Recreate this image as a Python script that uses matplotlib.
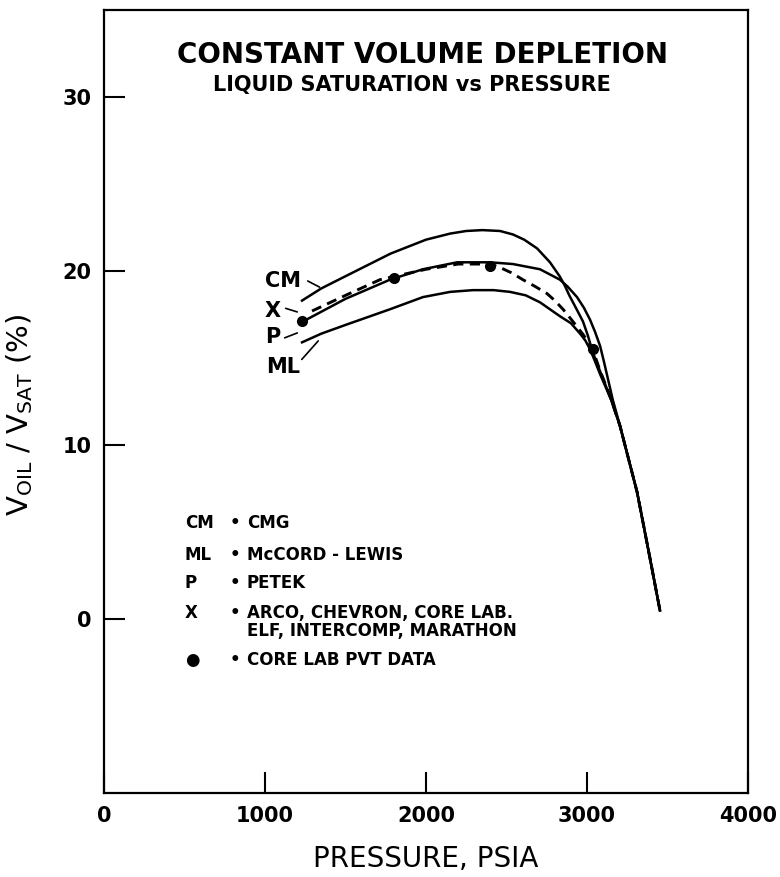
import numpy as np
import matplotlib
matplotlib.use("Agg")
import matplotlib.pyplot as plt

# Liquid saturation (%) vs pressure (psia)
p_cm = [1230, 1350, 1500, 1780, 2000, 2150, 2250, 2350, 2460, 2540, 2610, 2690, 2730, 2770, 2830, 2860,
        2890, 2930, 2975, 3005, 3037, 3070, 3100, 3150, 3205, 3311, 3391, 3453]
s_cm = [18.3, 19.0, 19.7, 21.0, 21.8, 22.15, 22.3, 22.35, 22.3, 22.1, 21.8, 21.3, 20.9, 20.5, 19.7, 19.2,
        18.6, 17.9, 17.1, 16.3, 15.3, 14.5, 13.8, 12.6, 11.1, 7.3, 3.5, 0.5]

p_x = [1292, 1500, 1714, 2000, 2200, 2400, 2460, 2530, 2602, 2680, 2752, 2800, 2851, 2895, 2938, 2980,
       3019, 3050, 3080, 3140, 3205, 3311, 3391, 3453]
s_x = [17.7, 18.6, 19.5, 20.1, 20.4, 20.4, 20.2, 19.9, 19.5, 19.1, 18.7, 18.3, 17.8, 17.3, 16.8, 16.3,
       15.7, 15.1, 14.3, 12.9, 11.1, 7.3, 3.5, 0.5]

p_p = [1236, 1500, 1776, 1981, 2193, 2398, 2540, 2708, 2832, 2880, 2938, 2980, 3019, 3050, 3081, 3105,
       3130, 3160, 3205, 3311, 3391, 3453]
s_p = [17.1, 18.4, 19.5, 20.1, 20.5, 20.5, 20.4, 20.1, 19.5, 19.1, 18.5, 17.9, 17.2, 16.5, 15.7, 14.8,
       13.8, 12.6, 11.1, 7.3, 3.5, 0.5]

p_ml = [1230, 1350, 1500, 1776, 1981, 2150, 2292, 2420, 2522, 2620, 2708, 2770, 2832, 2900, 2957, 2990,
        3019, 3050, 3080, 3150, 3205, 3311, 3391, 3453]
s_ml = [15.9, 16.4, 16.9, 17.8, 18.5, 18.8, 18.9, 18.9, 18.8, 18.6, 18.2, 17.8, 17.4, 17.0, 16.4, 16.0,
        15.5, 14.8, 14.1, 12.6, 11.1, 7.3, 3.5, 0.5]

# Core Lab PVT data
p_lab = [1230, 1800, 2400, 3037]
s_lab = [17.1, 19.6, 20.3, 15.5]

curve_labels = ["CM", "X", "P", "ML"]
legend_keys = ["CM", "ML", "P", "X", "", "\u25cf"]
legend_text = ["CMG", "McCORD - LEWIS", "PETEK", "ARCO, CHEVRON, CORE LAB.",
               "ELF, INTERCOMP, MARATHON", "CORE LAB PVT DATA"]

fig = plt.figure(figsize=(7.8, 8.77), dpi=100)
ax = fig.add_axes([104/780, 1-793/877, 644/780, 783/877])

lw = 1.8
ax.plot(p_cm, s_cm, color="black", lw=lw)
ax.plot(p_p, s_p, color="black", lw=lw)
ax.plot(p_ml, s_ml, color="black", lw=lw)
ax.plot(p_x, s_x, color="black", lw=lw + 0.3, dashes=(3.5, 2.2))
ax.plot(p_lab, s_lab, "o", color="black", ms=7)

ax.set_xlim(0, 4000)
ax.set_ylim(-10, 35)
ax.set_xticks([0, 1000, 2000, 3000, 4000])
ax.set_yticks([0, 10, 20, 30])
ax.tick_params(direction="in", length=15, width=1.5, labelsize=15, pad=9)
for lab in ax.get_yticklabels() + ax.get_xticklabels():
    lab.set_fontweight("bold")
for sp in ax.spines.values():
    sp.set_linewidth(1.6)

ax.set_xlabel("PRESSURE, PSIA", fontsize=20, labelpad=14)
ax.set_ylabel("V$_{\\mathregular{OIL}}$ / V$_{\\mathregular{SAT}}$ (%)", fontsize=21)
ax.yaxis.set_label_coords(-0.107, 0.483)

ax.text(0.494, 0.943, "CONSTANT VOLUME DEPLETION", transform=ax.transAxes,
        ha="center", va="center", fontsize=20, fontweight="bold")
ax.text(0.478, 0.904, "LIQUID SATURATION vs PRESSURE", transform=ax.transAxes,
        ha="center", va="center", fontsize=15, fontweight="bold")

# curve labels with leader lines
lab_pos = [(1112, 19.4), (1050, 17.7), (1050, 16.2), (1112, 14.5)]
lead_from = [(1250, 19.5), (1112, 17.9), (1106, 16.1), (1217, 14.8)]
lead_to = [(1354, 19.0), (1217, 17.6), (1217, 16.5), (1342, 16.1)]
for name, (lx, ly), a, b in zip(curve_labels, lab_pos, lead_from, lead_to):
    ax.text(lx, ly, name, ha="center", va="center", fontsize=15, fontweight="bold")
    ax.annotate("", xy=b, xytext=a, arrowprops=dict(arrowstyle="-", lw=1.2, color="black"))

# legend block
rows_y = [5.5, 3.7, 2.06, 0.34, -0.69, -2.34]
for key, txt, y in zip(legend_keys, legend_text, rows_y):
    ax.text(503, y, key, ha="left", va="center", fontsize=12, fontweight="bold")
    if key != "":
        ax.text(783, y, "\u2022", ha="left", va="center", fontsize=12, fontweight="bold")
    ax.text(888, y, txt, ha="left", va="center", fontsize=12, fontweight="bold")

fig.savefig("out.png", dpi=100)
